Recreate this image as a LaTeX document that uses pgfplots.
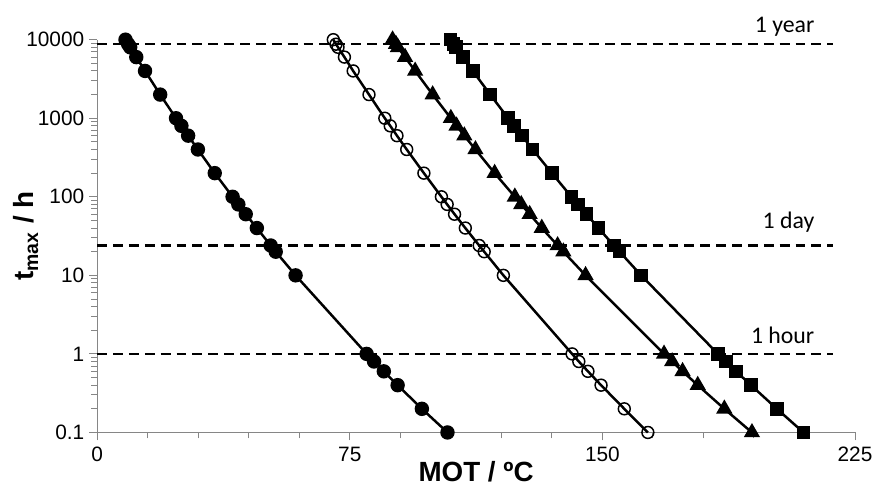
\documentclass[border=0pt]{standalone}
\usepackage{fontspec}
\setmainfont{Liberation Sans}
\newfontfamily\calibri{Carlito}
\usepackage{pgfplots}
\usepackage{pgfplotstable}
\pgfplotsset{compat=1.18}

\definecolor{axisgray}{RGB}{134,134,134}

% time (h) vs. MOT (degC) for the four series
\pgfplotstableread{
t      A      B      C      D
10000  8.4    70.1   87.7   104.9
8760   9.2    70.9   88.7   105.8
8000   9.8    71.5   89.3   106.5
6000   11.6   73.4   91.4   108.6
4000   14.2   76.0   94.4   111.5
2000   18.7   80.7   99.6   116.7
1000   23.4   85.4   105.0  122.0
800    25.0   87.0   106.7  123.8
600    27.0   89.0   109.0  126.1
400    29.9   91.9   112.3  129.3
200    34.9   97.0   118.0  135.0
100    40.2   102.2  124.0  140.8
80     41.9   103.9  125.9  142.8
60     44.1   106.1  128.4  145.3
40     47.4   109.3  132.0  148.8
24     51.5   113.4  136.7  153.4
20     53.0   114.9  138.4  155.1
10     58.9   120.6  145.0  161.5
1      80.0   141.0  168.3  184.3
0.8    82.2   143.0  170.7  186.7
0.6    85.1   145.7  173.8  189.7
0.4    89.2   149.6  178.3  194.1
0.2    96.4   156.5  186.2  201.8
0.1    104.0  163.5  194.4  209.7
}\mot

\begin{document}
\begin{tikzpicture}
\begin{axis}[
    scale only axis, width=382pt, height=198pt,
    xmin=0, xmax=225,
    ymode=log, ymin=0.1, ymax=10000,
    axis x line*=bottom, axis y line*=left,
    axis line style={-, draw=axisgray, line width=0.6pt},
    xtick={0,75,150,225}, minor x tick num=4,
    ytick={0.1,1,10,100,1000,10000},
    yticklabels={0.1,1,10,100,1000,10000},
    minor ytick={0.2,0.3,0.4,0.5,0.6,0.7,0.8,0.9,2,3,4,5,6,7,8,9,
      20,30,40,50,60,70,80,90,200,300,400,500,600,700,800,900,
      2000,3000,4000,5000,6000,7000,8000,9000},
    tick style={draw=axisgray, line width=0.5pt},
    tick align=outside, major tick length=4pt, minor tick length=3pt,
    ticklabel style={font=\fontsize{10.5}{12}\selectfont},
    yticklabel style={xshift=1pt},
    /pgf/number format/assume math mode=true,
    xlabel={MOT / ºC},
    ylabel={t\textsubscript{max} / h},
    every axis x label/.style={at={(axis description cs:0.5,-0.1)}, anchor=center,
      font=\fontsize{14}{16}\selectfont\bfseries},
    every axis y label/.style={at={(axis description cs:-0.094,0.5)}, rotate=90, anchor=center,
      font=\fontsize{14}{16}\selectfont\bfseries},
    clip=false,
  ]
  % reference times: 1 year, 1 day, 1 hour
  \addplot[black, line width=1.3pt, dash pattern=on 5pt off 3pt] coordinates {(0,8760)(218.5,8760)};
  \addplot[black, line width=1.3pt, dash pattern=on 5pt off 3pt] coordinates {(0,24)(218.5,24)};
  \addplot[black, line width=1.3pt, dash pattern=on 5pt off 3pt] coordinates {(0,1)(218.5,1)};

  \addplot[black, line width=1.25pt, mark=*, mark size=3pt] table[x=A, y=t] {\mot};
  \addplot[black, line width=1.25pt, mark=o, mark size=3pt, mark options={fill=white, line width=0.75pt}] table[x=B, y=t] {\mot};
  \addplot[black, line width=1.25pt, mark=triangle*, mark size=3.5pt] table[x=C, y=t] {\mot};
  \addplot[black, line width=1.25pt, mark=square*, mark size=2.8pt] table[x=D, y=t] {\mot};

  \node[anchor=east, font=\calibri\fontsize{12}{14}\selectfont] at (axis cs:215,14500) {1 year};
  \node[anchor=east, font=\calibri\fontsize{12}{14}\selectfont] at (axis cs:215,47) {1 day};
  \node[anchor=east, font=\calibri\fontsize{12}{14}\selectfont] at (axis cs:215,1.7) {1 hour};
\end{axis}
\path ([shift={(-49pt,-28.5pt)}]current axis.south west) rectangle ([shift={(8.5pt,20pt)}]current axis.north east);
\end{tikzpicture}
\end{document}
